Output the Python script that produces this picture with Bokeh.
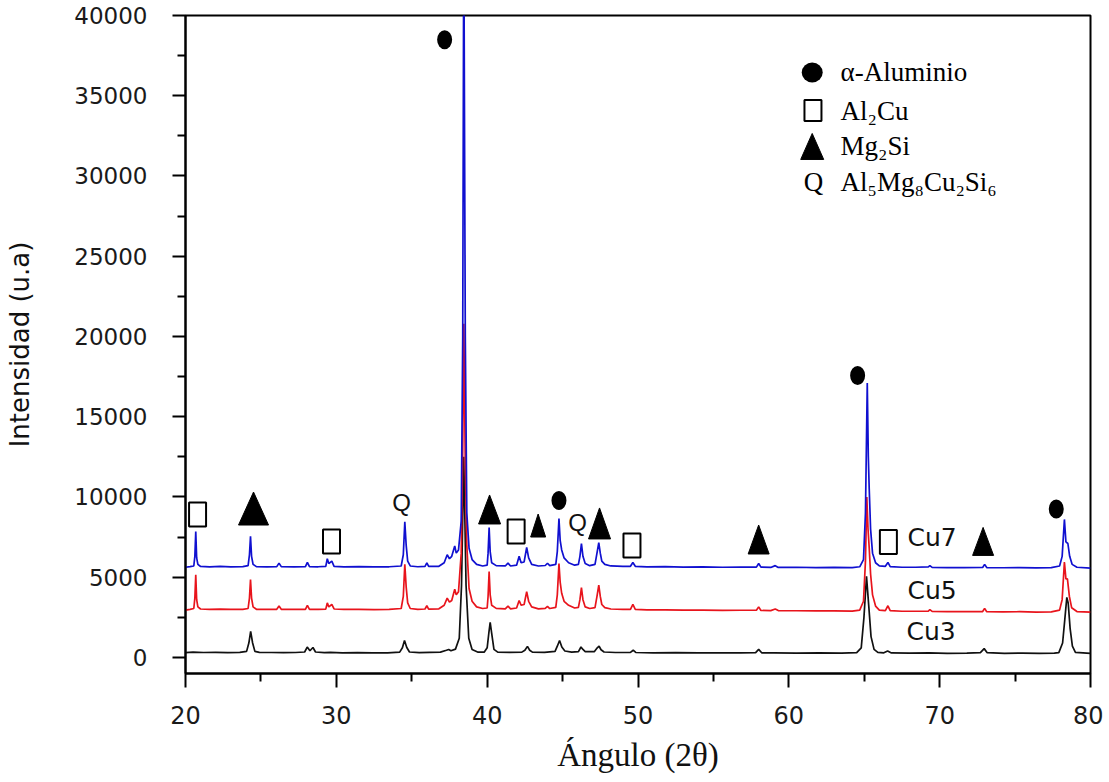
from bokeh.plotting import figure
from bokeh.models import Range1d, FixedTicker
from bokeh.core.properties import value
from bokeh.embed import file_html
from bokeh.resources import INLINE

# ---------------- data (2θ angle, intensity) ----------------
cu3 = [(20.0, 300), (20.5, 330), (21.2, 310), (22.0, 320), (22.8, 300), (23.6, 320), (24.05, 380),
       (24.2, 900), (24.32, 1620), (24.45, 900), (24.6, 380), (24.9, 320), (25.7, 310), (26.5, 300),
       (27.3, 310), (27.9, 340), (28.07, 650), (28.25, 420), (28.45, 620), (28.62, 340), (29.2, 300),
       (29.6, 320), (30.4, 290), (31.4, 300), (32.4, 280), (33.4, 290), (34.2, 330), (34.38, 600),
       (34.52, 1060), (34.67, 620), (34.85, 340), (35.5, 300), (36.2, 320), (36.9, 330), (37.3, 450),
       (37.45, 500), (37.6, 420), (37.9, 520), (38.15, 1200), (38.3, 4500), (38.45, 12500), (38.6, 4500),
       (38.78, 1200), (39.0, 500), (39.4, 330), (39.8, 330), (40.0, 600), (40.12, 1600), (40.2, 2180),
       (40.3, 1500), (40.45, 500), (40.7, 330), (41.5, 320), (42.3, 330), (42.5, 450), (42.67, 690),
       (42.82, 450), (43.0, 330), (43.8, 320), (44.5, 380), (44.65, 700), (44.8, 1060), (44.95, 650),
       (45.15, 400), (45.6, 330), (46.05, 360), (46.22, 650), (46.35, 500), (46.5, 360), (47.1, 360),
       (47.3, 600), (47.42, 700), (47.55, 480), (47.75, 340), (48.5, 310), (49.5, 320), (49.68, 450),
       (49.85, 310), (51.0, 290), (52.5, 300), (54.0, 280), (55.5, 290), (56.8, 280), (57.8, 300),
       (58.0, 500), (58.2, 290), (59.0, 290), (60.5, 270), (62.0, 280), (63.5, 270), (64.5, 300),
       (64.8, 600), (64.98, 2500), (65.15, 5050), (65.3, 3200), (65.45, 1300), (65.65, 500), (65.9, 320),
       (66.3, 290), (66.55, 400), (66.8, 280), (68.0, 270), (69.3, 280), (70.5, 260), (71.8, 270),
       (72.7, 300), (72.95, 550), (73.15, 300), (74.3, 260), (75.5, 270), (76.6, 250), (77.6, 270),
       (77.9, 300), (78.15, 900), (78.3, 2400), (78.43, 3740), (78.52, 3400), (78.65, 1800), (78.8, 700),
       (79.0, 320), (80.0, 250)]

cu5 = [(20.0, 2950), (20.3, 3000), (20.55, 3050), (20.62, 3700), (20.68, 5150), (20.74, 3600), (20.82, 3150),
       (21.0, 3020), (21.6, 3000), (22.3, 3010), (23.0, 2990), (23.8, 3000), (24.15, 3050), (24.24, 3700),
       (24.31, 4850), (24.38, 3700), (24.48, 3150), (24.7, 3000), (25.4, 2990), (26.05, 3000), (26.2, 3200),
       (26.35, 3000), (27.2, 2990), (27.95, 3000), (28.08, 3250), (28.22, 3000), (28.8, 2990), (29.3, 3010),
       (29.4, 3400), (29.5, 3150), (29.7, 3300), (29.85, 3020), (30.5, 2990), (31.5, 3000), (32.5, 2980),
       (33.5, 2990), (34.3, 3050), (34.44, 3800), (34.54, 5800), (34.63, 4400), (34.73, 3400), (34.9, 3050),
       (35.4, 3000), (35.88, 3020), (36.0, 3220), (36.12, 3010), (36.8, 3030), (37.15, 3250), (37.35, 3700),
       (37.5, 3450), (37.65, 3550), (37.85, 4250), (37.95, 3900), (38.1, 4100), (38.28, 6500), (38.38, 13000),
       (38.45, 20800), (38.55, 12000), (38.65, 7000), (38.8, 4300), (39.0, 3500), (39.3, 3150), (39.7, 3050),
       (40.0, 3080), (40.06, 3800), (40.13, 5350), (40.2, 3900), (40.3, 3250), (40.6, 3060), (41.2, 3030),
       (41.38, 3200), (41.55, 3030), (41.95, 3080), (42.12, 3550), (42.25, 3250), (42.45, 3300), (42.62, 4100),
       (42.75, 3500), (42.95, 3150), (43.4, 3030), (43.85, 3060), (44.0, 3180), (44.15, 3050), (44.55, 3120),
       (44.65, 3900), (44.76, 5850), (44.84, 4700), (44.94, 4000), (45.1, 3500), (45.4, 3250), (45.8, 3080),
       (46.05, 3120), (46.15, 3600), (46.25, 4350), (46.35, 3600), (46.5, 3150), (46.8, 3050), (47.15, 3100),
       (47.28, 3800), (47.4, 4500), (47.5, 3800), (47.6, 3300), (47.8, 3100), (48.2, 3020), (49.0, 2990),
       (49.5, 3000), (49.66, 3300), (49.82, 3000), (50.6, 2960), (51.8, 2970), (53.0, 2950), (54.3, 2950),
       (55.6, 2930), (56.8, 2940), (57.85, 2940), (58.0, 3150), (58.15, 2930), (58.8, 2920), (59.1, 3020),
       (59.3, 2920), (60.5, 2910), (61.8, 2900), (63.0, 2900), (64.2, 2890), (64.7, 2950), (64.95, 3500),
       (65.08, 6000), (65.17, 10000), (65.25, 8000), (65.33, 6800), (65.42, 5200), (65.55, 3900), (65.75, 3200),
       (66.0, 2950), (66.4, 2920), (66.57, 3220), (66.72, 2920), (67.5, 2880), (68.4, 2880), (69.25, 2890),
       (69.35, 2980), (69.5, 2870), (70.5, 2860), (71.6, 2860), (72.85, 2860), (72.98, 3060), (73.12, 2850),
       (74.2, 2840), (75.3, 2850), (76.4, 2830), (77.4, 2840), (77.95, 2950), (78.12, 3600), (78.27, 5950),
       (78.37, 4900), (78.47, 4900), (78.6, 3800), (78.75, 3100), (79.1, 2860), (80.0, 2820)]

cu7 = [(20.0, 5620), (20.3, 5660), (20.55, 5700), (20.62, 6300), (20.68, 7850), (20.74, 6200), (20.82, 5800),
       (21.0, 5670), (21.6, 5650), (22.3, 5670), (23.0, 5640), (23.8, 5660), (24.15, 5720), (24.24, 6400),
       (24.31, 7550), (24.38, 6300), (24.48, 5800), (24.7, 5660), (25.4, 5650), (26.05, 5660), (26.2, 5880),
       (26.35, 5660), (27.2, 5640), (27.95, 5660), (28.08, 5920), (28.22, 5660), (28.8, 5650), (29.3, 5670),
       (29.4, 6150), (29.5, 5850), (29.7, 6000), (29.85, 5680), (30.5, 5640), (31.5, 5660), (32.5, 5640),
       (33.5, 5650), (34.3, 5700), (34.44, 6400), (34.54, 8450), (34.63, 7000), (34.73, 6000), (34.9, 5700),
       (35.4, 5650), (35.88, 5680), (36.0, 5900), (36.12, 5670), (36.8, 5680), (37.15, 5900), (37.35, 6400),
       (37.5, 6150), (37.65, 6300), (37.85, 6950), (37.95, 6500), (38.1, 6700), (38.28, 8500), (38.38, 20000),
       (38.45, 46000), (38.55, 20000), (38.65, 9000), (38.8, 6800), (39.0, 6100), (39.3, 5800), (39.7, 5700),
       (40.0, 5750), (40.06, 6500), (40.13, 8100), (40.2, 6600), (40.3, 5900), (40.6, 5720), (41.2, 5700),
       (41.38, 5880), (41.55, 5700), (41.95, 5750), (42.12, 6300), (42.25, 5900), (42.45, 5950), (42.62, 6850),
       (42.75, 6200), (42.95, 5800), (43.4, 5700), (43.85, 5730), (44.0, 5870), (44.15, 5720), (44.55, 5800),
       (44.65, 6600), (44.76, 8650), (44.84, 7300), (44.94, 6700), (45.1, 6200), (45.4, 5900), (45.8, 5750),
       (46.05, 5800), (46.15, 6300), (46.25, 7100), (46.35, 6300), (46.5, 5850), (46.8, 5720), (47.15, 5800),
       (47.28, 6500), (47.4, 7150), (47.5, 6500), (47.6, 6000), (47.8, 5800), (48.2, 5700), (49.0, 5670),
       (49.5, 5680), (49.66, 5920), (49.82, 5680), (50.6, 5640), (51.8, 5660), (53.0, 5630), (54.3, 5640),
       (55.6, 5620), (56.8, 5630), (57.85, 5630), (58.0, 5850), (58.15, 5630), (58.8, 5610), (59.1, 5720),
       (59.3, 5610), (60.5, 5620), (61.8, 5600), (63.0, 5610), (64.2, 5600), (64.7, 5650), (64.95, 6100),
       (65.08, 9000), (65.2, 17100), (65.27, 12500), (65.33, 10500), (65.42, 8000), (65.55, 6500), (65.75, 5900),
       (66.0, 5700), (66.4, 5680), (66.57, 5920), (66.72, 5660), (67.5, 5620), (68.4, 5620), (69.25, 5640),
       (69.35, 5720), (69.5, 5610), (70.5, 5600), (71.6, 5600), (72.85, 5610), (72.98, 5800), (73.12, 5600),
       (74.2, 5590), (75.3, 5600), (76.4, 5580), (77.4, 5600), (77.95, 5700), (78.12, 6300), (78.27, 8600),
       (78.37, 7200), (78.5, 7100), (78.62, 6300), (78.78, 5800), (79.1, 5620), (80.0, 5570)]

series_names = ["Cu3", "Cu5", "Cu7"]
series_colors = ["#111111", "#e8141c", "#1010d0"]

x_ticks = [20, 30, 40, 50, 60, 70, 80]
x_minor = [25, 35, 45, 55, 65, 75]
y_ticks = [0, 5000, 10000, 15000, 20000, 25000, 30000, 35000, 40000]
y_minor = [2500, 7500, 12500, 17500, 22500, 27500, 32500, 37500]

# phase markers placed over the peaks (angle, intensity)
circle_x = [37.18, 44.76, 64.56, 77.73]
circle_y = [38490, 9780, 17570, 9250]
square_x = [20.8, 29.68, 41.92, 49.6, 66.6]
square_y = [8910, 7230, 7850, 6980, 7200]
tri_x = [24.51, 40.16, 43.38, 47.45, 58.0, 72.88]
tri_y = [9280, 9220, 8220, 8350, 7350, 7230]
tri_w = [30, 22, 15, 22, 21, 21]
tri_h = [33, 29, 23, 31, 29, 28]
q_x = [34.32, 46.0]
q_y = [9630, 8380]

# series labels
label_x = [67.8, 67.87, 67.87]
label_y = [1590, 4170, 7450]

# legend
legend_sym_x = 61.55
legend_text_x = 63.43
legend_rows_y = [36450, 34080, 31840, 29600]
legend_texts = ["α-Aluminio", "Al₂Cu", "Mg₂Si", "Al₅Mg₈Cu₂Si₆"]

x_title = "Ángulo (2θ)"
y_title = "Intensidad (u.a)"

# ---------------- figure ----------------
W, H = 1103, 782
BL, BR, BT, BB = 185, 13, 15, 109
X0, X1, Y0, Y1 = 20, 80, -1000, 40000

p = figure(width=W, height=H, x_range=Range1d(X0, X1), y_range=Range1d(Y0, Y1),
           output_backend="svg", toolbar_location=None,
           min_border_left=BL, min_border_right=BR, min_border_top=BT, min_border_bottom=BB)
p.background_fill_color = "white"
p.border_fill_color = "white"
p.xgrid.visible = False
p.ygrid.visible = False
p.outline_line_color = "black"
p.outline_line_width = 2
p.outline_line_alpha = 1

for data, name, col in zip([cu3, cu5, cu7], series_names, series_colors):
    p.line([d[0] for d in data], [d[1] for d in data], line_color=col, line_width=1.7)

# axes
p.xaxis.ticker = FixedTicker(ticks=x_ticks, minor_ticks=x_minor)
p.yaxis.ticker = FixedTicker(ticks=y_ticks, minor_ticks=y_minor)
for ax, tout in ((p.xaxis, 14), (p.yaxis, 13)):
    ax.axis_line_width = 2
    ax.axis_line_color = "black"
    ax.major_tick_in = 0
    ax.major_tick_out = tout
    ax.minor_tick_in = 0
    ax.minor_tick_out = 8
    ax.major_tick_line_width = 2
    ax.minor_tick_line_width = 2
    ax.major_tick_line_color = "black"
    ax.minor_tick_line_color = "black"
    ax.major_label_text_font = "DejaVu Sans"
    ax.major_label_text_color = "#1a1a1a"
    ax.axis_label_text_font_style = "normal"
    ax.axis_label_text_color = "#111111"

p.xaxis.major_label_text_font_size = "24px"
p.yaxis.major_label_text_font_size = "23px"
p.xaxis.major_label_standoff = 18
p.yaxis.major_label_standoff = 25
p.xaxis.axis_label = x_title
p.xaxis.axis_label_text_font = "Liberation Serif"
p.xaxis.axis_label_text_font_size = "33px"
p.xaxis.axis_label_standoff = 10
p.yaxis.axis_label = y_title
p.yaxis.axis_label_text_font = "DejaVu Sans"
p.yaxis.axis_label_text_font_size = "26px"
p.yaxis.axis_label_standoff = 36

sx = (W - BL - BR) / (X1 - X0)   # px per degree
sy = (H - BT - BB) / (Y1 - Y0)   # px per count

# marker symbols
p.ellipse(circle_x, circle_y, width=15, height=19, width_units="screen", height_units="screen",
          fill_color="black", line_color=None)
p.rect(square_x, square_y, width=17, height=24, width_units="screen", height_units="screen",
       fill_color=None, line_color="black", line_width=2)

txs, tys = [], []
for cx, cy, w, h in zip(tri_x, tri_y, tri_w, tri_h):
    hw, hh = w / 2 / sx, h / 2 / sy
    txs.append([cx - hw, cx + hw, cx])
    tys.append([cy - hh, cy - hh, cy + hh])
p.patches(txs, tys, fill_color="black", line_color="black", line_width=1)

p.text(q_x, q_y, text=["Q"] * len(q_x), text_font=value("Liberation Sans"), text_font_size="24px",
       text_align="center", text_baseline="middle", text_color="#111111")

p.text(label_x, label_y, text=series_names, text_font=value("DejaVu Sans"), text_font_size="25px",
       text_align="left", text_baseline="middle", text_color="#111111")

# legend
p.ellipse([legend_sym_x], [legend_rows_y[0]], width=21, height=20, width_units="screen",
          height_units="screen", fill_color="black", line_color=None)
p.rect([legend_sym_x + 0.05], [legend_rows_y[1]], width=17, height=21, width_units="screen",
       height_units="screen", fill_color=None, line_color="black", line_width=2)
lw, lh = 23 / 2 / sx, 26 / 2 / sy
ly = legend_rows_y[2]
p.patches([[legend_sym_x - lw, legend_sym_x + lw, legend_sym_x]], [[ly - lh, ly - lh, ly + lh]],
          fill_color="black", line_color="black", line_width=1)
p.text([legend_sym_x + 0.08], [legend_rows_y[3]], text=["Q"], text_font=value("Liberation Serif"),
       text_font_size="27px", text_align="center", text_baseline="middle", text_color="black")
p.text([legend_text_x] * 4, legend_rows_y, text=legend_texts, text_font=value("Liberation Serif"),
       text_font_size="27px", text_align="left", text_baseline="middle", text_color="black")

open("out.html", "w").write(file_html(p, INLINE))
